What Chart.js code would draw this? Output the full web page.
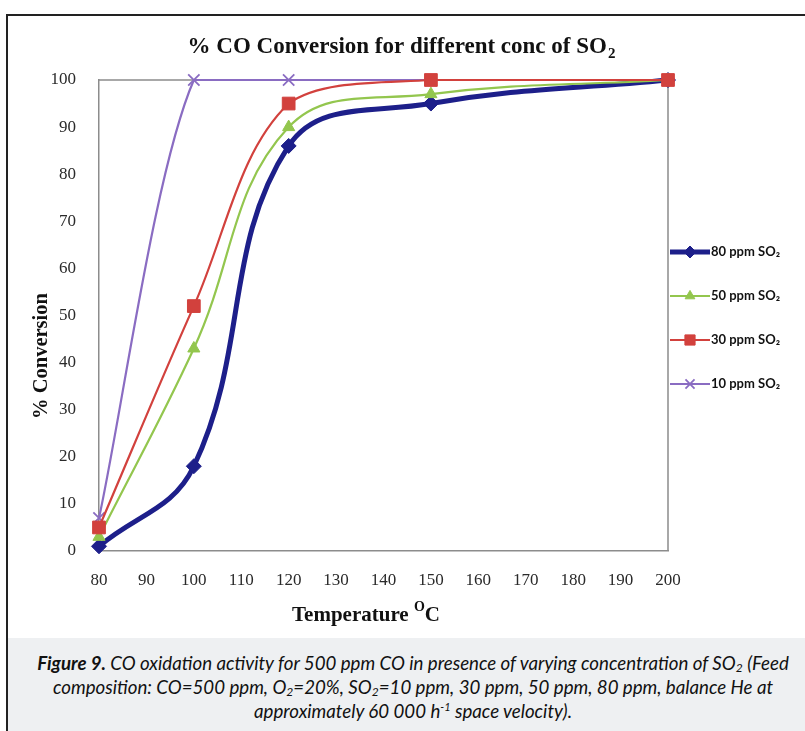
<!DOCTYPE html>
<html><head><meta charset="utf-8">
<script src="https://cdn.jsdelivr.net/npm/chart.js@4/dist/chart.umd.min.js"></script>
<style>
html,body{margin:0;padding:0;background:#fff;width:805px;height:731px;overflow:hidden;}
#wrap{position:absolute;left:0;top:0;width:805px;height:637px;}
#capbg{position:absolute;left:6px;top:638px;width:820px;height:100px;background:#eef0f2;}
#caption{position:absolute;left:6px;top:651px;width:814px;text-align:center;white-space:nowrap;
  font-family:Lato,"Open Sans",sans-serif;font-style:italic;font-size:18.7px;line-height:24px;color:#111;}
#caption sub{font-size:12px;vertical-align:-2px;line-height:0;}
#caption sup{font-size:11px;vertical-align:7px;line-height:0;}
#frame{position:absolute;left:6px;top:14px;width:830px;height:740px;border-left:2.5px solid #222;border-top:2.5px solid #222;z-index:5;}
</style></head>
<body>
<div id="capbg"></div>
<div id="wrap"><canvas id="c" width="805" height="637"></canvas></div>
<div id="caption"><b>Figure 9.</b> CO oxidation activity for 500 ppm CO in presence of varying concentration of SO<sub>2</sub> (Feed<br>composition: CO=500 ppm, O<sub>2</sub>=20%, SO<sub>2</sub>=10 ppm, 30 ppm, 50 ppm, 80 ppm, balance He at<br>approximately 60 000 h<sup>-1</sup> space velocity).</div>
<div id="frame"></div>
<script>
// ---- data ----
const temps = [80, 100, 120, 150, 200];
const ppm80 = [1, 18, 86, 95, 100];
const ppm50 = [3, 43, 90, 97, 100];
const ppm30 = [5, 52, 95, 100, 100];
const ppm10 = [7, 100, 100, 100, 100];
const seriesLabels = ['80 ppm SO\u2082', '50 ppm SO\u2082', '30 ppm SO\u2082', '10 ppm SO\u2082'];
const xTickRange = [80, 200, 10];
const yTickRange = [0, 100, 10];

const serif = '"Liberation Serif","Times New Roman",serif';
const toPts = ys => temps.map((t, i) => ({x: t, y: ys[i]}));

const styles = [
  {color: '#1d1f8a', width: 5, point: 'rectRot', r: 7.5, order: 3, tension: 0.4},
  {color: '#93c64e', width: 2.2, point: 'triangle', r: 7, order: 2, tension: 0.4},
  {color: '#d2413d', width: 2.2, point: 'rect', r: 9, order: 0, tension: 0.35},
  {color: '#8a6cc2', width: 2.2, point: 'crossRot', r: 8, order: 1, tension: 0.25}
];
const values = [ppm80, ppm50, ppm30, ppm10];

const datasets = values.map((v, i) => ({
  label: seriesLabels[i],
  data: toPts(v),
  borderColor: styles[i].color,
  backgroundColor: styles[i].color,
  borderWidth: styles[i].width,
  pointStyle: styles[i].point,
  pointRadius: styles[i].r,
  pointBorderWidth: styles[i].point === 'crossRot' ? 1.8 : 1,
  pointBorderColor: styles[i].color,
  pointBackgroundColor: styles[i].color,
  tension: styles[i].tension,
  clip: false,
  order: styles[i].order
}));

function drawMarker(ctx, st, x, y) {
  const opts = {pointStyle: st.point, radius: st.r, rotation: 0, borderWidth: st.point === 'crossRot' ? 1.8 : 1};
  ctx.save();
  ctx.fillStyle = st.color; ctx.strokeStyle = st.color; ctx.lineWidth = opts.borderWidth;
  Chart.helpers.drawPoint(ctx, opts, x, y);
  ctx.restore();
}

const deco = {
  id: 'deco',
  beforeDatasetsDraw(chart) {
    const {ctx, chartArea: a} = chart;
    ctx.save();
    ctx.strokeStyle = '#8c8c8c'; ctx.lineWidth = 1.5;
    ctx.beginPath();
    ctx.moveTo(a.left, a.top); ctx.lineTo(a.right, a.top); ctx.lineTo(a.right, a.bottom);
    ctx.stroke();
    ctx.restore();
  },
  afterDraw(chart) {
    const ctx = chart.ctx;
    ctx.save();
    ctx.fillStyle = '#111';
    ctx.textBaseline = 'alphabetic';
    // title
    ctx.font = 'bold 23px ' + serif;
    const t1 = '% CO Conversion for different conc of SO';
    const w1 = ctx.measureText(t1).width;
    ctx.font = 'bold 15px ' + serif;
    const w2 = ctx.measureText('2').width;
    let x0 = 401 - (w1 + w2) / 2;
    ctx.font = 'bold 23px ' + serif;
    ctx.fillText(t1, x0, 53);
    ctx.font = 'bold 15px ' + serif;
    ctx.fillText('2', x0 + w1 + 1, 58);
    // x title
    ctx.font = 'bold 21px ' + serif;
    const a1 = 'Temperature ';
    const wa = ctx.measureText(a1).width;
    const wc = ctx.measureText('C').width;
    ctx.font = 'bold 14px ' + serif;
    const wo = ctx.measureText('O').width;
    x0 = 366 - (wa + wo + wc) / 2;
    ctx.font = 'bold 21px ' + serif;
    ctx.fillText(a1, x0, 621);
    ctx.fillText('C', x0 + wa + wo, 621);
    ctx.font = 'bold 14px ' + serif;
    ctx.fillText('O', x0 + wa, 611);
    // y title
    ctx.save();
    ctx.translate(47, 356);
    ctx.rotate(-Math.PI / 2);
    ctx.font = 'bold 20.5px ' + serif;
    ctx.textAlign = 'center';
    ctx.fillText('% Conversion', 0, 0);
    ctx.restore();
    // legend
    const ly = [252, 296, 340, 384];
    styles.forEach((st, i) => {
      ctx.save();
      ctx.strokeStyle = st.color; ctx.lineWidth = st.width;
      ctx.beginPath(); ctx.moveTo(670, ly[i]); ctx.lineTo(710, ly[i]); ctx.stroke();
      ctx.restore();
      drawMarker(ctx, {...st, r: st.r * 0.8}, 690, ly[i]);
      ctx.font = 'bold 13px Lato, "Open Sans", sans-serif';
      ctx.fillStyle = '#111';
      ctx.textBaseline = 'middle';
      ctx.fillText(seriesLabels[i], 711, ly[i]);
    });
    ctx.restore();
  }
};

new Chart(document.getElementById('c'), {
  type: 'line',
  data: {datasets},
  options: {
    responsive: false,
    animation: false,
    layout: {padding: {left: 0, top: 80, right: 137, bottom: 0}},
    plugins: {legend: {display: false}, title: {display: false}, tooltip: {enabled: false}},
    scales: {
      x: {
        type: 'linear', min: xTickRange[0], max: xTickRange[1],
        ticks: {stepSize: xTickRange[2], color: '#2a2a2a', font: {family: serif, size: 17}, padding: 11, maxRotation: 0},
        grid: {display: false},
        border: {display: true, color: '#8c8c8c', width: 1.5},
        afterFit(s) { s.height = 86; }
      },
      y: {
        type: 'linear', min: yTickRange[0], max: yTickRange[1],
        ticks: {stepSize: yTickRange[2], color: '#2a2a2a', font: {family: serif, size: 17}, padding: 15},
        grid: {display: false},
        border: {display: true, color: '#8c8c8c', width: 1.5},
        afterFit(s) { s.width = 99; }
      }
    }
  },
  plugins: [deco]
});
</script>
</body></html>
